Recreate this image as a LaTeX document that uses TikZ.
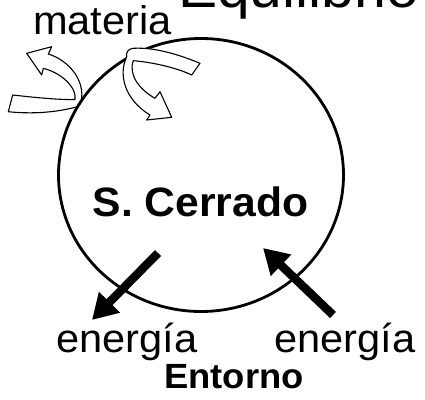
\documentclass[tikz,border=0pt]{standalone}
\usepackage{fontspec}
\setmainfont{Liberation Sans}[FakeStretch=1.04]
\usetikzlibrary{arrows.meta,shapes.geometric}
\tikzset{
  lbl/.style={inner sep=0pt, outer sep=0pt, anchor=base},
  hollow/.style={draw=black, fill=white, line width=1.1pt, line join=round},
  bigarrow/.style={line width=8.5pt, -{Triangle[length=25pt,width=28pt]}},
  sysring/.style={draw=black, ellipse, line width=2.8pt, minimum width=285pt, minimum height=273pt, inner sep=0pt},
}
\begin{document}
\begin{tikzpicture}[x=1pt,y=-1pt]
\useasboundingbox (0,0) rectangle (425,399);
% title, clipped by the page edge as in the reference
\node[lbl, anchor=base west, font=\fontsize{56.5}{62}\selectfont] (title) at (178,7) {Equilibrio};
\node[lbl, anchor=base west, font=\fontsize{40}{46}\selectfont] (mat) at (33,34) {materia};
% left hollow curved arrow (matter out)
\draw[hollow] (12.7,95) .. controls (35,97.5) and (60,100) .. (75,99.5)
 .. controls (77,88) and (62,73) .. (43.3,68.3)
 -- (41.7,75) -- (26.7,53.3) -- (51.7,46.7) -- (48.3,54)
 .. controls (68,60) and (86,80) .. (81,102)
 .. controls (80,104) and (79,106) .. (78,106.5)
 .. controls (55,113) and (30,114) .. (8.3,111.7) -- cycle;
% system boundary
\node[sysring] (sys) at (201,175) {};
% right hollow curved arrow (matter in)
\draw[hollow] (200,63.3) .. controls (180,55) and (155,47) .. (133.3,48.3)
 .. controls (128,49) and (126,52) .. (126.7,56.7)
 .. controls (118,75) and (125,100) .. (150,115)
 -- (146.7,120) -- (171.7,117.3) -- (160,91.7) -- (155,98.3)
 .. controls (140,90) and (128,75) .. (133.3,60.7)
 .. controls (150,62) and (175,67) .. (191.7,75) -- cycle;
\node[lbl, font=\bfseries\fontsize{41}{47}\selectfont] (sc) at (200.5,216) {S. Cerrado};
% energy arrows
\coordinate (l1) at (158,253);
\coordinate (l2) at (92,320);
\coordinate (r1) at (333,315);
\coordinate (r2) at (263,248);
\draw[bigarrow] (l1) -- (l2);
\draw[bigarrow] (r1) -- (r2);
\node[lbl, font=\fontsize{40}{46}\selectfont] (eout) at (127,352) {energía};
\node[lbl, font=\fontsize{40}{46}\selectfont] (ein) at (345,352) {energía};
\node[lbl, font=\bfseries\fontsize{35}{41}\selectfont] (ent) at (234,388) {Entorno};
\end{tikzpicture}
\end{document}
